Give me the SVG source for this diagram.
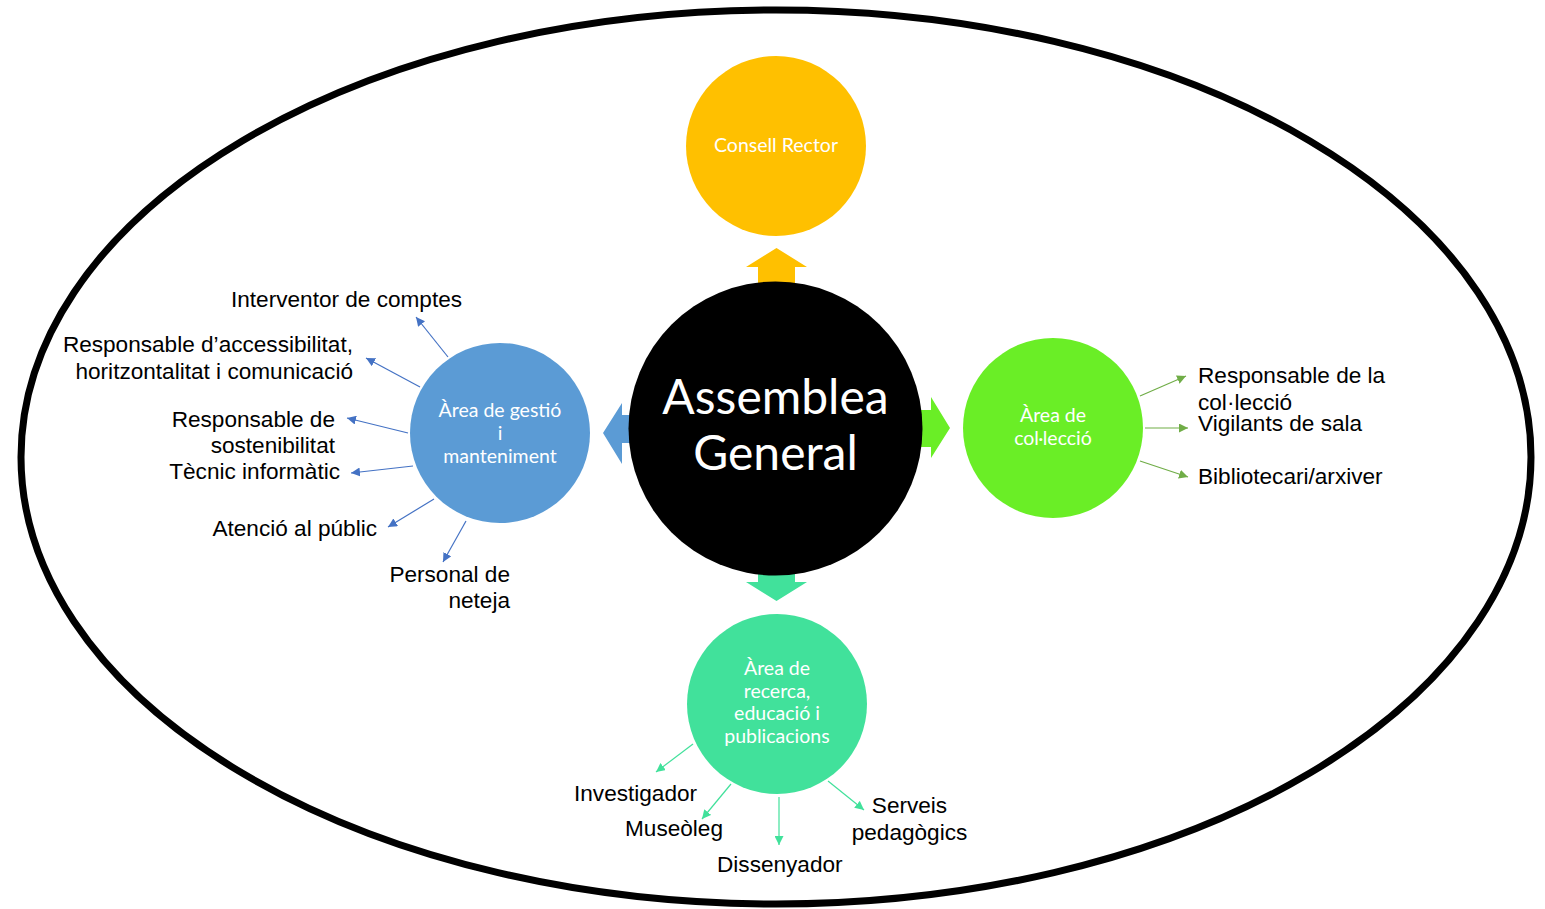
<svg xmlns="http://www.w3.org/2000/svg" width="1545" height="909" viewBox="0 0 1545 909">
<style>
.lbl{font-family:"Liberation Sans",Arial,sans-serif;font-size:22.6px;fill:#000}
.ctext{font-family:Lato,"Open Sans",sans-serif;fill:#fff;text-anchor:middle;font-size:19.5px}
.cblue{stroke:#4472C4;stroke-width:1.2;fill:none}
.cgreen{stroke:#70AD47;stroke-width:1.2;fill:none}
.cteal{stroke:#41E19B;stroke-width:1.2;fill:none}
</style>
<defs>
<marker id="mb" viewBox="0 0 10 10" refX="10" refY="5" markerWidth="9" markerHeight="9" markerUnits="userSpaceOnUse" orient="auto"><path d="M0,0 L10,5 L0,10 z" fill="#4472C4"/></marker>
<marker id="mg" viewBox="0 0 10 10" refX="10" refY="5" markerWidth="9" markerHeight="9" markerUnits="userSpaceOnUse" orient="auto"><path d="M0,0 L10,5 L0,10 z" fill="#70AD47"/></marker>
<marker id="mt" viewBox="0 0 10 10" refX="10" refY="5" markerWidth="9" markerHeight="9" markerUnits="userSpaceOnUse" orient="auto"><path d="M0,0 L10,5 L0,10 z" fill="#41E19B"/></marker>
</defs>
<rect width="1545" height="909" fill="#fff"/>
<ellipse id="frame" cx="776" cy="457" rx="755" ry="447" fill="none" stroke="#000" stroke-width="7"/>

<g id="arrows-main">
<polygon fill="#FFC000" points="758,287 758,267 746,267 776.5,248 807,267 795,267 795,287"/>
<polygon fill="#5B9BD5" points="642,415 622,415 622,403 603,433 622,464 622,443 642,443"/>
<polygon fill="#6AEE26" points="912,410 931,410 931,397 950,428 931,458 931,447 912,447"/>
<polygon fill="#41E19B" points="758,563 758,582 746,582 776.5,601 807,582 795,582 795,563"/>
</g>

<g id="assemblea">
<circle cx="775.5" cy="428.5" r="147" fill="#000"/>
<text class="ctext" x="775.5" y="414" style="font-size:48px">Assemblea</text>
<text class="ctext" x="775.5" y="470" style="font-size:48px">General</text>
</g>

<g id="consell">
<circle cx="776" cy="146" r="90" fill="#FFC000"/>
<text class="ctext" x="776" y="152">Consell Rector</text>
</g>

<g id="gestio">
<circle cx="500" cy="433" r="90" fill="#5B9BD5"/>
<text class="ctext" x="500" y="417">Àrea de gestió</text>
<text class="ctext" x="500" y="440">i</text>
<text class="ctext" x="500" y="463">manteniment</text>
</g>

<g id="colleccio">
<circle cx="1053" cy="428" r="90" fill="#6AEE26"/>
<text class="ctext" x="1053" y="422">Àrea de</text>
<text class="ctext" x="1053" y="445">col·lecció</text>
</g>

<g id="recerca">
<circle cx="777" cy="704" r="90" fill="#41E19B"/>
<text class="ctext" x="777" y="675">Àrea de</text>
<text class="ctext" x="777" y="698">recerca,</text>
<text class="ctext" x="777" y="720">educació i</text>
<text class="ctext" x="777" y="743">publicacions</text>
</g>

<g id="connectors">
<line class="cblue" x1="448" y1="357" x2="416" y2="317" marker-end="url(#mb)"/>
<line class="cblue" x1="420" y1="387" x2="366" y2="358" marker-end="url(#mb)"/>
<line class="cblue" x1="408" y1="433" x2="347" y2="418" marker-end="url(#mb)"/>
<line class="cblue" x1="413" y1="466" x2="351" y2="473" marker-end="url(#mb)"/>
<line class="cblue" x1="434" y1="499" x2="388" y2="527" marker-end="url(#mb)"/>
<line class="cblue" x1="466" y1="521" x2="443" y2="562" marker-end="url(#mb)"/>
<line class="cgreen" x1="1140" y1="396" x2="1186" y2="376" marker-end="url(#mg)"/>
<line class="cgreen" x1="1145" y1="428" x2="1188" y2="428" marker-end="url(#mg)"/>
<line class="cgreen" x1="1140" y1="461" x2="1188" y2="477" marker-end="url(#mg)"/>
<line class="cteal" x1="693" y1="744" x2="656" y2="772" marker-end="url(#mt)"/>
<line class="cteal" x1="731" y1="784" x2="702" y2="819" marker-end="url(#mt)"/>
<line class="cteal" x1="779" y1="797" x2="779" y2="845" marker-end="url(#mt)"/>
<line class="cteal" x1="828" y1="781" x2="864" y2="810" marker-end="url(#mt)"/>
</g>

<g id="labels">
<text class="lbl" x="231" y="307">Interventor de comptes</text>
<text class="lbl" x="353" y="352" text-anchor="end">Responsable d’accessibilitat,</text>
<text class="lbl" x="353" y="379" text-anchor="end">horitzontalitat i comunicació</text>
<text class="lbl" x="335" y="427" text-anchor="end">Responsable de</text>
<text class="lbl" x="335" y="453" text-anchor="end">sostenibilitat</text>
<text class="lbl" x="340" y="479" text-anchor="end">Tècnic informàtic</text>
<text class="lbl" x="377" y="536" text-anchor="end">Atenció al públic</text>
<text class="lbl" x="510" y="582" text-anchor="end">Personal de</text>
<text class="lbl" x="510" y="608" text-anchor="end">neteja</text>
<text class="lbl" x="1198" y="383">Responsable de la</text>
<text class="lbl" x="1198" y="410">col·lecció</text>
<text class="lbl" x="1198" y="431">Vigilants de sala</text>
<text class="lbl" x="1198" y="484">Bibliotecari/arxiver</text>
<text class="lbl" x="574" y="801">Investigador</text>
<text class="lbl" x="625" y="836">Museòleg</text>
<text class="lbl" x="717" y="872">Dissenyador</text>
<text class="lbl" x="909.5" y="813" text-anchor="middle">Serveis</text>
<text class="lbl" x="909.5" y="840" text-anchor="middle">pedagògics</text>
</g>
</svg>
